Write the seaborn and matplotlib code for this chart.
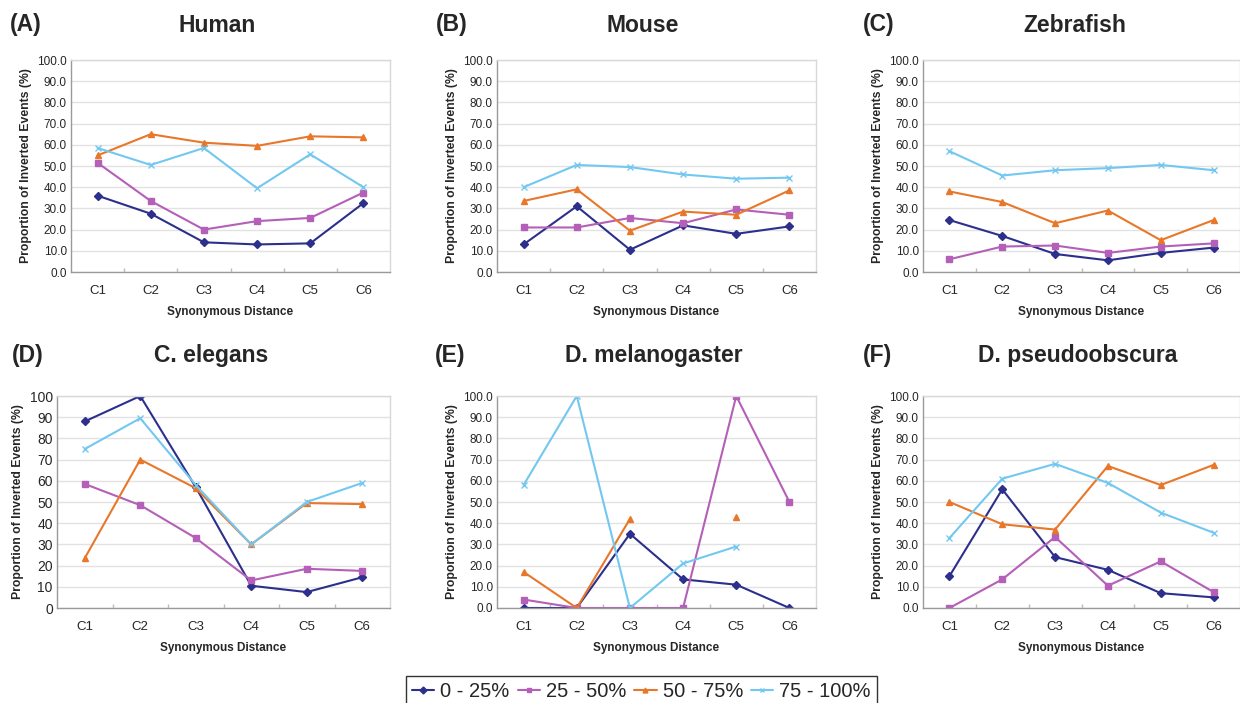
import matplotlib

matplotlib.use("Agg")

import matplotlib.pyplot as plt
import numpy as np
import pandas as pd
import seaborn as sns
from matplotlib.lines import Line2D
from matplotlib.ticker import FixedLocator, FormatStrFormatter

nan = np.nan

CATEGORIES = ["C1", "C2", "C3", "C4", "C5", "C6"]
SERIES = ["0 - 25%", "25 - 50%", "50 - 75%", "75 - 100%"]
COLORS = ["#2c2f8c", "#b45fb8", "#e8772a", "#72c8f0"]
MARKERS = ["D", "s", "^", "x"]

PANEL_LETTERS = ["(A)", "(B)", "(C)", "(D)", "(E)", "(F)"]
PANEL_TITLES = ["Human", "Mouse", "Zebrafish", "C. elegans", "D. melanogaster", "D. pseudoobscura"]

human = [
    [36.0, 27.5, 14.0, 13.0, 13.5, 32.5],
    [51.5, 33.5, 20.0, 24.0, 25.5, 37.5],
    [55.0, 65.0, 61.0, 59.5, 64.0, 63.5],
    [58.5, 50.5, 58.5, 39.5, 55.5, 40.0],
]
mouse = [
    [13.0, 31.0, 10.5, 22.0, 18.0, 21.5],
    [21.0, 21.0, 25.5, 23.0, 29.5, 27.0],
    [33.5, 39.0, 19.5, 28.5, 27.0, 38.5],
    [40.0, 50.5, 49.5, 46.0, 44.0, 44.5],
]
zebrafish = [
    [24.5, 17.0, 8.5, 5.5, 9.0, 11.5],
    [6.0, 12.0, 12.5, 9.0, 12.0, 13.5],
    [38.0, 33.0, 23.0, 29.0, 15.0, 24.5],
    [57.0, 45.5, 48.0, 49.0, 50.5, 48.0],
]
c_elegans = [
    [88.0, 100.0, 57.0, 10.5, 7.5, 14.5],
    [58.5, 48.5, 33.0, 13.0, 18.5, 17.5],
    [23.5, 70.0, 56.5, 30.0, 49.5, 49.0],
    [75.0, 89.5, 58.0, 30.0, 50.0, 59.0],
]
d_melanogaster = [
    [0.0, 0.0, 35.0, 13.5, 11.0, 0.0],
    [4.0, 0.0, 0.0, 0.0, 100.0, 50.0],
    [17.0, 0.0, 42.0, nan, 43.0, nan],
    [58.0, 100.0, 0.0, 21.0, 29.0, nan],
]
d_pseudoobscura = [
    [15.0, 56.0, 24.0, 18.0, 7.0, 5.0],
    [0.0, 13.5, 33.5, 10.5, 22.0, 7.5],
    [50.0, 39.5, 37.0, 67.0, 58.0, 67.5],
    [33.0, 61.0, 68.0, 59.0, 45.0, 35.5],
]
PANEL_DATA = [human, mouse, zebrafish, c_elegans, d_melanogaster, d_pseudoobscura]

# axes boxes in pixels (left, right, top, bottom) on a 1240x703 canvas
W, H = 1240, 703
BOXES = [
    (71, 390, 60, 272), (497, 816, 60, 272), (923, 1240, 60, 272),
    (57, 390, 396, 608), (497, 816, 396, 608), (923, 1240, 396, 608),
]
LETTER_X = [10, 436, 863, 12, 435, 863]
TITLE_X = [217, 643, 1075, 211, 654, 1078]
ROW_Y = [25, 355]


def series_frame(vals):
    # split on gaps so missing points break the line
    rows = []
    seg = 0
    for i, v in enumerate(vals):
        if np.isnan(v):
            seg += 1
            continue
        rows.append({"pos": i, "value": v, "seg": seg})
    return pd.DataFrame(rows)


sns.set_theme(style="white")
plt.rcParams["font.family"] = ["Liberation Sans", "DejaVu Sans"]

fig = plt.figure(figsize=(W / 100, H / 100), dpi=100)

for k, (values, box) in enumerate(zip(PANEL_DATA, BOXES)):
    l, r, t, b = box
    ax = fig.add_axes([l / W, 1 - b / H, (r - l) / W, (b - t) / H])
    for vals, color, marker in zip(values, COLORS, MARKERS):
        sns.lineplot(
            data=series_frame(vals), x="pos", y="value", units="seg", estimator=None,
            color=color, marker=marker, markersize=3.8 if marker != "x" else 5,
            markeredgecolor=color, markeredgewidth=1, linewidth=1.5, ax=ax,
        )

    ax.set_xlim(-0.5, 5.5)
    ax.set_ylim(0, 100)
    ax.set_xticks(range(len(CATEGORIES)))
    ax.set_xticklabels(CATEGORIES, fontsize=9.5)
    ax.xaxis.set_minor_locator(FixedLocator(np.arange(0.5, 5, 1)))
    ax.tick_params(axis="x", which="major", length=0, pad=9)
    ax.tick_params(axis="x", which="minor", length=3, direction="in", color="#bbbbbb", bottom=True)
    ax.set_yticks(np.arange(0, 101, 10))
    if k == 3:
        ax.yaxis.set_major_formatter(FormatStrFormatter("%d"))
        ax.tick_params(axis="y", labelsize=10, length=0, pad=3)
    else:
        ax.yaxis.set_major_formatter(FormatStrFormatter("%.1f"))
        ax.tick_params(axis="y", labelsize=8.5, length=0, pad=3)
    ax.grid(axis="y", color="#e2e2e2", linewidth=1)
    ax.set_axisbelow(True)
    for side in ["top", "right"]:
        ax.spines[side].set_color("#d8d8d8")
        ax.spines[side].set_linewidth(1)
    for side in ["left", "bottom"]:
        ax.spines[side].set_color("#9a9a9a")
        ax.spines[side].set_linewidth(1)
    ax.set_xlabel("Synonymous Distance", fontsize=8.5, fontweight="bold", labelpad=6.5)
    ax.set_ylabel("Proportion of Inverted Events (%)", fontsize=8.8, fontweight="bold", labelpad=4)

    row = k // 3
    fig.text(LETTER_X[k] / W, 1 - ROW_Y[row] / H, PANEL_LETTERS[k], fontsize=16.5,
             fontweight="bold", ha="left", va="center")
    fig.text(TITLE_X[k] / W, 1 - ROW_Y[row] / H, PANEL_TITLES[k], fontsize=16.5,
             fontweight="bold", ha="center", va="center")

handles = [
    Line2D([], [], color=c, marker=m, markersize=3.5, markeredgecolor=c, linewidth=1.5)
    for c, m in zip(COLORS, MARKERS)
]
leg = fig.legend(
    handles, SERIES, loc="upper center", bbox_to_anchor=(641.5 / W, 1 - 676 / H),
    borderaxespad=0, ncol=4, fontsize=14.5, frameon=True, fancybox=False,
    handlelength=1.1, handletextpad=0.3, columnspacing=0.4, borderpad=0.3,
)
leg.get_frame().set_edgecolor("black")
leg.get_frame().set_linewidth(1)

fig.savefig("out.png", dpi=100)
